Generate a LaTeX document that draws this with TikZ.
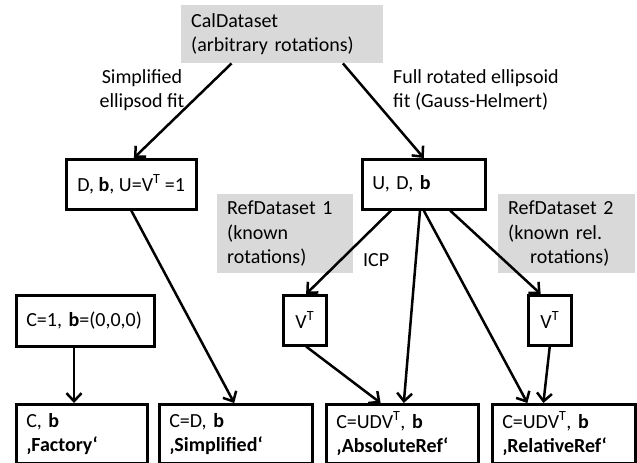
\documentclass[tikz,border=0pt]{standalone}
\usepackage{fontspec}
\setmainfont{Carlito}
\usetikzlibrary{arrows.meta,calc}
\definecolor{boxgray}{RGB}{217,217,217}
\tikzset{
  bx/.style={draw, line width=2.5pt, inner xsep=10pt, inner ysep=0pt, anchor=north west, align=left},
  cbx/.style={draw, line width=2.5pt, inner sep=0pt, anchor=north west, align=center},
  gbx/.style={fill=boxgray, inner xsep=10pt, inner ysep=0pt, anchor=north west, align=left},
  lbl/.style={inner sep=0pt},
  arr/.style={line width=2.5pt, -{Straight Barb[length=8pt,width=15pt]}}
}
\begin{document}
\begin{tikzpicture}[x=1pt,y=-1pt,font=\fontsize{20}{24.4}\selectfont]
\useasboundingbox (0,0) rectangle (637,463);
% gray boxes
\node[gbx, text width=182pt, minimum height=58pt] (cal) at (181,5) {CalDataset\\(arbitrary rotations)};
\node[gbx, text width=116pt, minimum height=79pt] (ref1) at (217,194) {RefDataset 1\\(known\\rotations)};
\node[gbx, text width=117pt, minimum height=79pt] (ref2) at (498,194) {RefDataset 2\\(known rel.\\\hspace*{22pt}rotations)};
% boxes
\node[cbx, minimum width=130pt, minimum height=50pt] (db) at (65,158) {D, \textbf{b}, U=V\textsuperscript{T} =1};
\node[bx, text width=103pt, minimum height=50pt] (udb) at (361,158) {U, D, \textbf{b}};
\node[bx, text width=118pt, minimum height=51pt] (c1) at (15,294) {C=1, \textbf{b}=(0,0,0)};
\node[cbx, minimum width=43pt, minimum height=50pt] (vt1) at (282,294) {V\textsuperscript{T}};
\node[cbx, minimum width=43pt, minimum height=50pt] (vt2) at (527,294) {V\textsuperscript{T}};
\node[bx, text width=111pt, minimum height=59pt] (fac) at (15,403) {C, \textbf{b}\\\textbf{‚Factory‘}};
\node[bx, text width=133pt, minimum height=59pt] (sim) at (158,403) {C=D, \textbf{b}\\\textbf{‚Simplified‘}};
\node[bx, text width=132pt, minimum height=59pt] (abs) at (325,403) {C=UDV\textsuperscript{T}, \textbf{b}\\\textbf{‚AbsoluteRef‘}};
\node[bx, text width=123pt, minimum height=59pt] (rel) at (491,403) {C=UDV\textsuperscript{T}, \textbf{b}\\\textbf{‚RelativeRef‘}};
% labels
\node[lbl, anchor=north, align=center] (lsimp) at (142,69) {Simplified\\ellipsod fit};
\node[lbl, anchor=north west, align=left] (lfull) at (393,69) {Full rotated ellipsoid\\fit (Gauss-Helmert)};
\node[lbl, anchor=base west] (licp) at (363,266) {ICP};
% connectors
\draw[arr] ($(cal.south west)!0.25!(cal.south east)$) -- ($(db.north west)!0.52!(db.north east)$);
\draw[arr] ($(cal.south west)!0.80!(cal.south east)$) -- (udb.north);
\draw[arr] (db.south) -- ($(sim.north west)!0.49!(sim.north east)$);
\draw[arr] ($(udb.south west)!0.24!(udb.south east)$) -- ($(vt1.north west)!0.53!(vt1.north east)$);
\draw[arr] ($(udb.south west)!0.47!(udb.south east)$) -- ($(abs.north west)!0.51!(abs.north east)$);
\draw[arr] ($(udb.south west)!0.50!(udb.south east)$) -- ($(rel.north west)!0.25!(rel.north east)$);
\draw[arr] ($(udb.south west)!0.71!(udb.south east)$) -- ($(vt2.north west)!0.30!(vt2.north east)$);
\draw[arr] ($(vt1.south west)!0.53!(vt1.south east)$) -- ($(abs.north west)!0.36!(abs.north east)$);
\draw[arr] (vt2.south) -- ($(rel.north west)!0.36!(rel.north east)$);
\coordinate (c1out) at ($(c1.south west)!0.42!(c1.south east)$);
\draw[arr] (c1out) -- (c1out |- fac.north);
\end{tikzpicture}
\end{document}
